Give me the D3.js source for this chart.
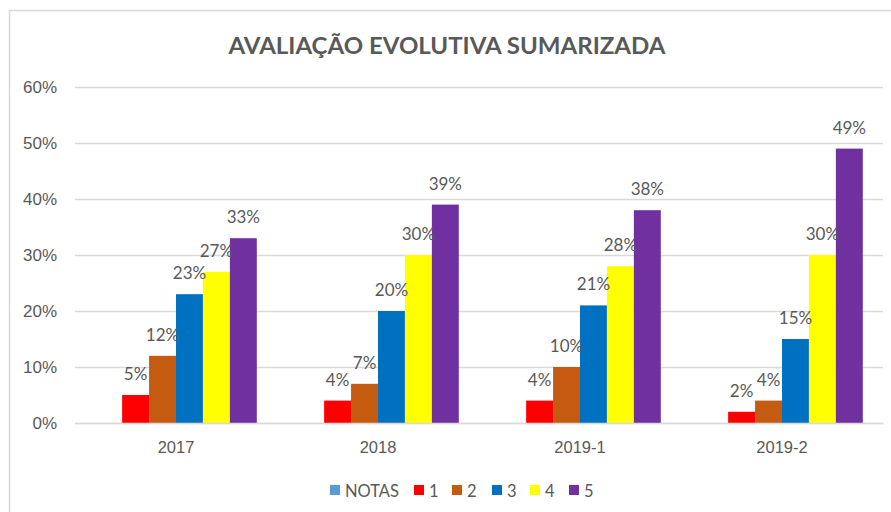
<!DOCTYPE html>
<html>
<head>
<meta charset="utf-8">
<script src="https://cdn.jsdelivr.net/npm/d3@7"></script>
<style>
	body { margin: 0; background: #fff; }
	svg { display: block; font-family: Lato, 'Open Sans', sans-serif; }
</style>
</head>
<body>
<svg id="chart"></svg>
<script>
// chart data
const categories = ['2017', '2018', '2019-1', '2019-2'];
const seriesNames = ['NOTAS', '1', '2', '3', '4', '5'];
const seriesColors = ['#5b9bd5', '#ff0000', '#c55a11', '#0070c0', '#ffff00', '#7030a0'];
// NOTAS has no values, it only takes a slot in each group
const notas = [null, null, null, null];
const nota1 = [0.05, 0.04, 0.04, 0.02];
const nota2 = [0.12, 0.07, 0.10, 0.04];
const nota3 = [0.23, 0.20, 0.21, 0.15];
const nota4 = [0.27, 0.30, 0.28, 0.30];
const nota5 = [0.33, 0.39, 0.38, 0.49];
const yTicks = [0, 0.1, 0.2, 0.3, 0.4, 0.5, 0.6];

const seriesValues = [notas, nota1, nota2, nota3, nota4, nota5];

const width = 891;
const height = 512;
const marginLeft = 75;
const marginRight = 8;
const marginTop = 87;
const marginBottom = 89;

const svg = d3.select('#chart')
	.attr('width', width)
	.attr('height', height);

// chart frame
svg.append('rect')
	.attr('x', 9.5)
	.attr('y', 10.5)
	.attr('width', width + 10)
	.attr('height', height + 10)
	.attr('fill', '#fff')
	.attr('stroke', '#d9d9d9')
	.attr('stroke-width', 1.5);

const x0 = d3.scaleBand()
	.domain(categories)
	.range([marginLeft, width - marginRight]);

const gap = x0.bandwidth() * 0.1;
const x1 = d3.scaleBand()
	.domain(seriesNames)
	.range([gap, x0.bandwidth() - gap]);

const y = d3.scaleLinear()
	.domain([0, 0.6])
	.range([height - marginBottom, marginTop]);

// title
svg.append('text')
	.attr('x', 447)
	.attr('y', 54)
	.attr('text-anchor', 'middle')
	.attr('font-size', 22)
	.attr('font-weight', 'bold')
	.attr('fill', '#595959')
	.attr('textLength', 437)
	.attr('lengthAdjust', 'spacingAndGlyphs')
	.text('AVALIAÇÃO EVOLUTIVA SUMARIZADA');

// y axis with grid lines
svg.append('g')
	.attr('transform', `translate(${marginLeft},0)`)
	.call(d3.axisLeft(y)
		.tickValues(yTicks)
		.tickFormat(d3.format('.0%'))
		.tickSize(-(width - marginLeft - marginRight))
		.tickPadding(18))
	.call((g) => g.select('.domain').remove())
	.call((g) => g.selectAll('.tick line').attr('stroke', '#d9d9d9').attr('stroke-width', 1.3))
	.call((g) => g.selectAll('.tick text')
		.attr('fill', '#595959')
		.attr('font-size', 17));

// bars
const data = [];
categories.forEach((c, i) => {
	seriesNames.forEach((s, j) => {
		if (seriesValues[j][i] != null) {
			data.push({ cat: c, series: s, color: seriesColors[j], value: seriesValues[j][i] });
		}
	});
});

svg.append('g')
	.selectAll()
	.data(data)
	.join('rect')
	.attr('x', (d) => x0(d.cat) + x1(d.series))
	.attr('y', (d) => y(d.value))
	.attr('width', x1.bandwidth())
	.attr('height', (d) => y(0) - y(d.value))
	.attr('fill', (d) => d.color);

// value labels
svg.append('g')
	.selectAll()
	.data(data)
	.join('text')
	.attr('x', (d) => x0(d.cat) + x1(d.series) + x1.bandwidth() / 2)
	.attr('y', (d) => y(d.value) - 15)
	.attr('text-anchor', 'middle')
	.attr('font-size', 17)
	.attr('fill', '#595959')
	.text((d) => d3.format('.0%')(d.value));

// x axis
svg.append('g')
	.attr('transform', `translate(0,${y(0)})`)
	.call(d3.axisBottom(x0).tickSize(0).tickPadding(18))
	.call((g) => g.select('.domain').attr('stroke', '#d9d9d9').attr('stroke-width', 1.3))
	.call((g) => g.selectAll('.tick text')
		.attr('fill', '#595959')
		.attr('font-size', 16.5));

// legend
const legendX = [330, 414, 452, 492, 530, 569];
const legend = svg.append('g')
	.selectAll()
	.data(seriesNames)
	.join('g')
	.attr('transform', (d, i) => `translate(${legendX[i]},485)`);

legend.append('rect')
	.attr('width', 10)
	.attr('height', 10)
	.attr('fill', (d, i) => seriesColors[i]);

legend.append('text')
	.attr('x', 15)
	.attr('y', 12)
	.attr('font-size', 16.5)
	.attr('fill', '#595959')
	.text((d) => d);
</script>
</body>
</html>
